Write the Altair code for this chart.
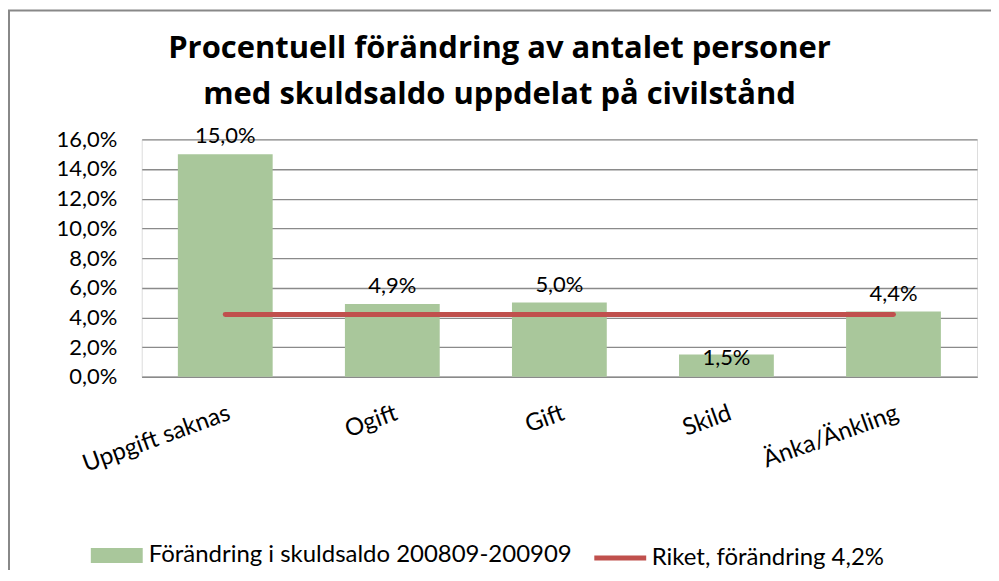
import altair as alt
import pandas as pd

categories = ["Uppgift saknas", "Ogift", "Gift", "Skild", "Änka/Änkling"]
values = [15.0, 4.9, 5.0, 1.5, 4.4]
riket = 4.2
bar_series = "Förändring i skuldsaldo 200809-200909"
line_series = "Riket, förändring 4,2%"
y_ticks = [0, 2, 4, 6, 8, 10, 12, 14, 16]
title_lines = ["Procentuell förändring av antalet personer",
               "med skuldsaldo uppdelat på civilstånd"]

GREEN = "#A9C79B"
RED = "#C0504D"
GRID = "#8A8A8A"
FONT = "Lato"

bars_df = pd.DataFrame({"kategori": categories, "varde": values, "serie": bar_series})
line_df = pd.DataFrame({"kategori": categories, "varde": [riket] * len(categories), "serie_l": line_series})
frame_df = pd.DataFrame({"k": [0]})

x_enc = alt.X(
    "kategori:N", sort=categories, title=None,
    scale=alt.Scale(paddingInner=0.4325, paddingOuter=0.2163),
    axis=alt.Axis(labelAngle=-20, labelAlign="right", labelBaseline="top",
                  labelPadding=24, ticks=False, domainColor=GRID, domainWidth=1.5,
                  labelFont=FONT, labelFontSize=24, labelColor="#000", grid=False,
                  labelOverlap=False),
)
y_enc = alt.Y(
    "varde:Q", title=None,
    scale=alt.Scale(domain=[0, 16], nice=False, zero=True),
    axis=alt.Axis(values=y_ticks, tickCount=9, domain=False, ticks=False, labelPadding=25,
                  labelFont=FONT, labelFontSize=22, labelColor="#000", labelOverlap=False,
                  grid=True, gridColor=GRID, gridWidth=1.3,
                  labelExpr="replace(format(datum.value, '.1f'), '.', ',') + '%'"),
)

base = alt.Chart(bars_df)

bars = base.mark_bar().encode(
    x=x_enc, y=y_enc,
    fill=alt.Fill("serie:N", scale=alt.Scale(range=[GREEN]), title=None,
                  legend=alt.Legend(orient="none", legendX=-51, legendY=391,
                                    symbolType="M-1,-0.29L1,-0.29L1,0.29L-1,0.29Z",
                                    symbolSize=2704, symbolStrokeWidth=0,
                                    labelFont=FONT, labelFontSize=24, labelColor="#000",
                                    labelOffset=6, labelLimit=600, padding=0)),
)

label_expr = "replace(format(datum.varde, '.1f'), '.', ',') + '%'"

labels_hi = base.transform_filter("datum.varde >= 3").transform_calculate(
    etikett=label_expr
).mark_text(font=FONT, fontSize=22, color="#000", baseline="alphabetic", dy=-11).encode(
    x=x_enc, y=y_enc, text="etikett:N")

labels_lo = base.transform_filter("datum.varde < 3").transform_calculate(
    etikett=label_expr
).mark_text(font=FONT, fontSize=22, color="#000", baseline="alphabetic", dy=10).encode(
    x=x_enc, y=y_enc, text="etikett:N")

line = alt.Chart(line_df).mark_line(strokeWidth=5, strokeCap="round").encode(
    x=x_enc, y=y_enc,
    stroke=alt.Stroke("serie_l:N", scale=alt.Scale(range=[RED]), title=None,
                      legend=alt.Legend(orient="none", legendX=451, legendY=391,
                                        symbolType="stroke", symbolSize=2704,
                                        symbolStrokeWidth=5,
                                        labelFont=FONT, labelFontSize=24, labelColor="#000",
                                        labelOffset=3, labelLimit=600, padding=0)),
)

frame_left = alt.Chart(frame_df).mark_rule(color="#888888", strokeWidth=2).encode(
    x=alt.value(-133), y=alt.value(-129), y2=alt.value(460))
frame_top = alt.Chart(frame_df).mark_rule(color="#888888", strokeWidth=2).encode(
    x=alt.value(-134), x2=alt.value(880), y=alt.value(-129))

chart = alt.layer(bars, line, labels_hi, labels_lo, frame_left, frame_top).properties(
    width=837, height=238,
    title=alt.TitleParams(text=title_lines, font="Open Sans", fontSize=31, fontWeight="bold",
                          lineHeight=46, anchor="middle", dx=-60, dy=116, offset=14,
                          color="#000"),
    autosize=alt.AutoSizeParams(type="none"),
    padding={"left": 134, "top": 131, "right": 14, "bottom": 193},
).resolve_scale(fill="independent", stroke="independent").configure_view(stroke=None).configure(
    background="white")

chart.save("out.html", embed_options={"renderer": "svg", "actions": False})
